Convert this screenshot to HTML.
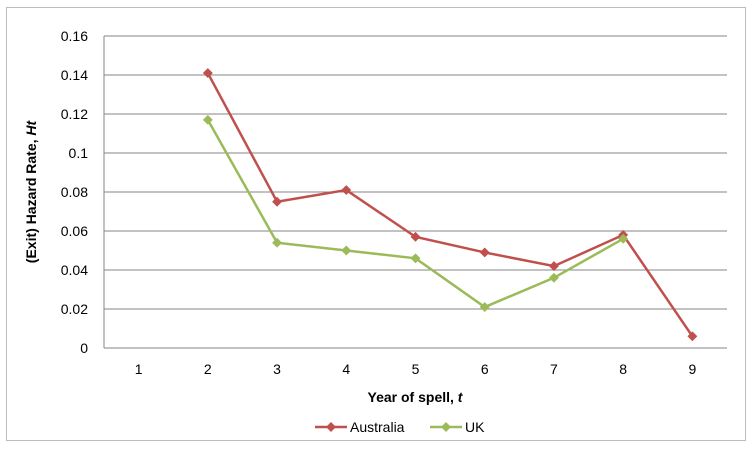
<!DOCTYPE html>
<html><head><meta charset="utf-8"><style>
body{margin:0;background:#fff;}
svg{display:block;font-family:"Liberation Sans",sans-serif;}
</style></head><body>
<svg id="c" width="754" height="451">
<rect x="6.5" y="7.5" width="739" height="433" fill="#fff" stroke="#bcbcbc"/>
</svg>
<script>
const categories=[1,2,3,4,5,6,7,8,9];
const australia=[null,0.141,0.075,0.081,0.057,0.049,0.042,0.058,0.006];
const uk=[null,0.117,0.054,0.050,0.046,0.021,0.036,0.056,null];
const yTicks=[0,0.02,0.04,0.06,0.08,0.1,0.12,0.14,0.16];
const yTickLabels=["0","0.02","0.04","0.06","0.08","0.1","0.12","0.14","0.16"];
const svg=document.getElementById('c');const NS='http://www.w3.org/2000/svg';
const L=104,R=727,T=36,B=348,yMax=0.16;
const step=(R-L)/categories.length;
const x=i=>L+step*(i+0.5);
const y=v=>B-(v/yMax)*(B-T);
function mk(t,a,p){const e=document.createElementNS(NS,t);for(const k in a)e.setAttribute(k,a[k]);(p||svg).appendChild(e);return e;}
yTicks.forEach((v,i)=>{
 const g=mk('line',{x1:L,x2:R,y1:y(v),y2:y(v),stroke:i==0?'#868686':'#868686','stroke-width':1});
 
 
 const t=mk('text',{x:88,y:y(v)+5,'text-anchor':'end','font-size':14,fill:'#000'});t.textContent=yTickLabels[i];
 
 
});
const ax=mk('line',{x1:L,x2:L,y1:T,y2:B,stroke:'#868686'});


categories.forEach((c,i)=>{
 const t=mk('text',{x:x(i),y:374,'text-anchor':'middle','font-size':14});t.textContent=c;
 
 
});
const xt=mk('text',{x:415,y:402,'text-anchor':'middle','font-size':14,'font-weight':'bold'});
xt.innerHTML='Year of spell, <tspan font-style="italic">t</tspan>';


const yt=mk('text',{transform:'translate(36,192) rotate(-90)','text-anchor':'middle','font-size':14,'font-weight':'bold'});
yt.innerHTML='(Exit) Hazard Rate, <tspan font-style="italic">Ht</tspan>';


function series(vals,col,name){
 let d='';vals.forEach((v,i)=>{if(v==null)return;d+=(d?'L':'M')+x(i)+','+y(v);});
 const p=mk('path',{d:d,fill:'none',stroke:col,'stroke-width':2.5});
 
 
 vals.forEach((v,i)=>{if(v==null)return;
  const m=mk('rect',{x:x(i)-3.5,y:y(v)-3.5,width:7,height:7,fill:col,transform:`rotate(45 ${x(i)} ${y(v)})`});
  
  
 });
}
series(australia,'#c0504d','australia');
series(uk,'#9bbb59','uk');
function leg(lx,col,label,name){
 const g=mk('g',{});
 
 
 mk('line',{x1:lx,x2:lx+32,y1:427,y2:427,stroke:col,'stroke-width':2.5},g);
 mk('rect',{x:lx+12.5,y:423.5,width:7,height:7,fill:col,transform:`rotate(45 ${lx+16} 427)`},g);
 const t=mk('text',{x:lx+35,y:432,'font-size':14},g);t.textContent=label;
}
leg(315,'#c0504d','Australia','australia');
leg(430,'#9bbb59','UK','uk');
</script>
</body></html>
